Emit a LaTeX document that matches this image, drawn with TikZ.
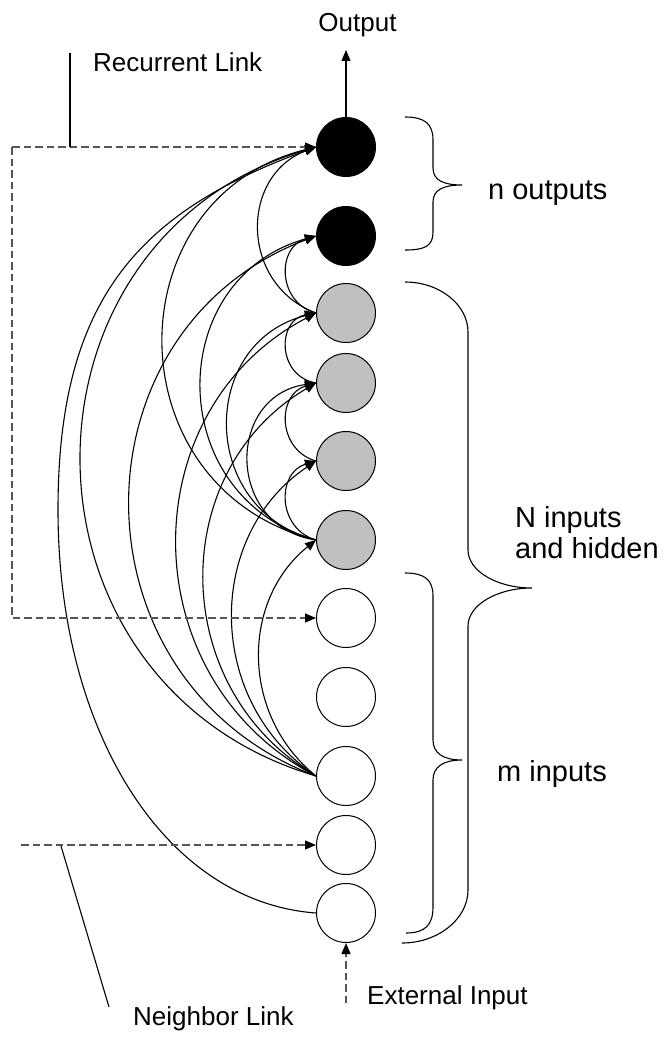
\documentclass[tikz,border=0pt]{standalone}
\usepackage{fontspec}
\setmainfont{Liberation Sans}
\usetikzlibrary{arrows.meta}
\definecolor{hidgray}{HTML}{C0C0C0}
\definecolor{dashgray}{HTML}{555555}
\begin{document}
\begin{tikzpicture}[x=1pt,y=-1pt,
  neuron/.style={circle, draw=black, line width=1pt, minimum size=59pt, inner sep=0pt},
  outn/.style={neuron, fill=black},
  hidn/.style={neuron, fill=hidgray},
  inn/.style={neuron, fill=white},
  tip/.tip={Triangle[length=11pt,width=9pt,color=black]},
  conn/.style={line width=1.1pt, -tip},
  link/.style={line width=1.1pt},
  dlink/.style={line width=1.3pt, draw=dashgray, dash pattern=on 7.5pt off 4pt, -tip},
  lbl/.style={font=\fontsize{26}{30}\selectfont, inner sep=0pt},
  blbl/.style={font=\fontsize{29}{33}\selectfont, inner sep=0pt},
  brace/.style={line width=1.1pt}]
\useasboundingbox (0,0) rectangle (666,1038);

% neurons
\node[outn] (n1) at (346,147) {};
\node[outn] (n2) at (346,236) {};
\node[hidn] (n3) at (346,313) {};
\node[hidn] (n4) at (346,383) {};
\node[hidn] (n5) at (346,461) {};
\node[hidn] (n6) at (346,540) {};
\node[inn] (n7) at (346,618) {};
\node[inn] (n8) at (346,697) {};
\node[inn] (n9) at (346,776) {};
\node[inn] (n10) at (346,845) {};
\node[inn] (n11) at (346,913) {};

% feed-forward arcs (lower node to higher node)
\coordinate (apex) at (58,510);
\draw[conn] (n11.west) .. controls (165,902) and (58,732) .. (apex)
  .. controls (58,300) and (138,212) .. (n1.west);
\draw[conn] (n9.west) to[bend left=73.6, looseness=1.33] (n1.west);
\draw[conn] (n9.west) to[bend left=69.3, looseness=1.26] (n2.west);
\draw[conn] (n9.west) to[bend left=62.4, looseness=1.16] (n3.west);
\draw[conn] (n9.west) to[bend left=59.6, looseness=1.13] (n4.west);
\draw[conn] (n9.west) to[bend left=56.2, looseness=1.09] (n5.west);
\draw[conn] (n9.west) to[bend left=51.2, looseness=1.05] (n6.west);
\draw[conn] (n6.west) to[bend left=76, looseness=1.37] (n1.west);
\draw[conn] (n6.west) to[bend left=74.4, looseness=1.34] (n2.west);
\draw[conn] (n6.west) to[bend left=76, looseness=1.37] (n3.west);
\draw[conn] (n6.west) to[bend left=81.8, looseness=1.49] (n4.west);
\draw[conn] (n6.west) to[bend left=73.5, looseness=1.33] (n5.west);
\draw[conn] (n3.west) to[bend left=69.4, looseness=1.26] (n1.west);
\draw[conn] (n3.west) to[bend left=75, looseness=1.35] (n2.west);
\draw[conn] (n4.west) to[bend left=80, looseness=1.46] (n3.west);
\draw[conn] (n5.west) to[bend left=74, looseness=1.34] (n4.west);

% output
\coordinate (outtip) at (346,50);
\draw[conn] (n1.north) -- (outtip);
\node[lbl, anchor=base] (tout) at (357.5,32) {Output};

% recurrent link
\coordinate (rl) at (12,147);
\coordinate (rc) at (12,618);
\coordinate (rtop) at (70,53);
\coordinate (rbot) at (70,147);
\draw[dlink] (rl) -- (n1.west);
\draw[dlink] (rl) -- (rc) -- (n7.west);
\draw[link] (rtop) -- (rbot);
\node[lbl, anchor=base west] (trec) at (93,72) {Recurrent Link};

% neighbor link
\coordinate (nl) at (21,845);
\coordinate (ntop) at (61,846);
\coordinate (nbot) at (109,1007);
\draw[dlink] (nl) -- (n10.west);
\draw[link] (ntop) -- (nbot);
\node[lbl, anchor=base west] (tneigh) at (133,1025) {Neighbor Link};

% external input
\coordinate (ext) at (346,1003);
\draw[dlink] (ext) -- (n11.south);
\node[lbl, anchor=base west] (text) at (367,1004) {External Input};

% braces
\draw[brace] (405,117) .. controls (425,117) and (433,124) .. (433,140) -- (433,168)
  .. controls (433,180) and (443,185) .. (462,185)
  .. controls (443,185) and (433,190) .. (433,202) -- (433,232)
  .. controls (433,246) and (425,250) .. (405,250);
\draw[brace] (405,282) .. controls (440,282) and (468,305) .. (468,332) -- (468,550)
  .. controls (468,571) and (497,588) .. (532,588)
  .. controls (497,588) and (468,605) .. (468,626) -- (468,890)
  .. controls (468,919) and (438,943) .. (402,943);
\draw[brace] (405,573) .. controls (425,573) and (433,580) .. (433,596) -- (433,740)
  .. controls (433,753) and (443,760) .. (462,760)
  .. controls (443,760) and (433,767) .. (433,780) -- (433,907)
  .. controls (433,925) and (425,933) .. (406,933);

\node[blbl, anchor=base west] (tnout) at (488,199) {n outputs};
\node[blbl, anchor=base west] (tnin1) at (515,527) {N inputs};
\node[blbl, anchor=base west] (tnin2) at (515,558) {and hidden};
\node[blbl, anchor=base west] (tmin) at (497,781) {m inputs};
\end{tikzpicture}
\end{document}
